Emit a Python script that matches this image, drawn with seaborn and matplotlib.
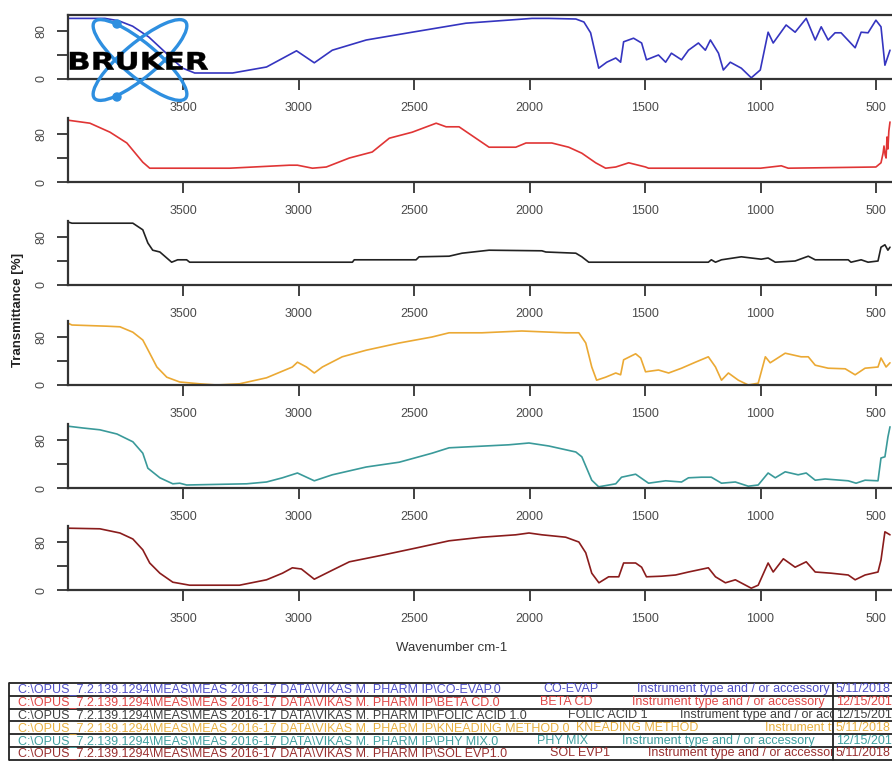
import matplotlib
matplotlib.use("Agg")
import matplotlib.pyplot as plt
import seaborn as sns
import pandas as pd
from matplotlib.patches import Ellipse, Circle, PathPatch, Rectangle
from matplotlib.textpath import TextPath
from matplotlib.font_manager import FontProperties
from matplotlib.transforms import Affine2D

# ---- IR spectra: wavenumber (cm-1) and transmittance (%) per sample ----
wn_coevap = [4000, 3840, 3780, 3720, 3650, 3580, 3530, 3503, 3451, 3287, 3140, 3010,
             2933, 2855, 2708, 2509, 2276, 2133, 1990, 1917, 1800, 1765, 1736, 1701,
             1666, 1627, 1606, 1593, 1550, 1515, 1494, 1442, 1411, 1386, 1342, 1312,
             1269, 1239, 1217, 1182, 1161, 1131, 1083, 1040, 1001, 967, 945, 889,
             850, 802, 763, 737, 707, 677, 651, 590, 564, 534, 500, 478, 461, 439]
t_coevap = [101, 101, 97, 88, 70, 45, 27, 18, 10, 10, 20, 47,
            27, 48, 65, 78, 93, 97, 101, 101, 100, 95, 77, 18,
            28, 35, 28, 62, 68, 60, 32, 40, 28, 43, 32, 48,
            60, 48, 65, 43, 15, 28, 18, 2, 15, 78, 60, 90,
            78, 101, 65, 87, 65, 77, 77, 52, 78, 77, 98, 87, 23, 48]

wn_betacd = [4000, 3905, 3818, 3745, 3676, 3646, 3300, 3041, 3006, 2941, 2881, 2781,
             2682, 2608, 2509, 2405, 2362, 2306, 2176, 2060, 2016, 1904, 1831, 1774,
             1714, 1671, 1627, 1571, 1498, 1485, 1000, 910, 880, 500, 478, 469,
             465, 460, 456, 452, 448, 444, 439]
t_betacd = [103, 98, 83, 65, 33, 23, 23, 28, 28, 23, 25, 40,
            50, 73, 83, 98, 92, 92, 58, 58, 65, 65, 58, 48,
            32, 23, 25, 32, 25, 23, 23, 27, 23, 25, 32, 48,
            60, 45, 40, 75, 55, 85, 100]

wn_folic = [4000, 3983, 3719, 3676, 3654, 3633, 3602, 3572, 3551, 3525, 3486, 3473,
            2768, 2760, 2492, 2479, 2349, 2293, 2176, 1947, 1930, 1800, 1774, 1744,
            1226, 1213, 1195, 1169, 1083, 997, 967, 936, 850, 793, 763, 620,
            608, 564, 534, 491, 478, 461, 448, 439]
t_folic = [105, 103, 103, 92, 70, 58, 55, 45, 38, 42, 42, 38,
           38, 42, 42, 47, 48, 53, 58, 57, 55, 53, 47, 38,
           38, 42, 38, 42, 47, 43, 45, 38, 40, 48, 42, 42,
           38, 42, 38, 40, 63, 67, 58, 63]

wn_knead = [4000, 3983, 3831, 3775, 3719, 3676, 3646, 3615, 3572, 3516, 3430, 3356,
            3257, 3140, 3028, 3006, 2967, 2933, 2898, 2812, 2708, 2565, 2423, 2349,
            2207, 2034, 1844, 1787, 1757, 1731, 1710, 1671, 1627, 1606, 1593, 1541,
            1519, 1498, 1442, 1398, 1342, 1282, 1226, 1195, 1169, 1139, 1096, 1053,
            1010, 979, 958, 893, 824, 793, 763, 707, 633, 590, 547, 491, 478, 456, 439]
t_knead = [103, 100, 98, 97, 88, 75, 53, 30, 13, 5, 2, 0,
           2, 12, 30, 38, 30, 20, 30, 47, 58, 70, 80, 87,
           87, 90, 87, 87, 70, 30, 8, 13, 20, 17, 42, 52,
           45, 22, 25, 20, 28, 38, 47, 30, 8, 20, 8, 0,
           3, 47, 37, 53, 47, 47, 33, 28, 27, 17, 28, 30, 45, 30, 37]

wn_phymix = [4000, 3935, 3862, 3788, 3719, 3676, 3654, 3602, 3546, 3516, 3486, 3226,
             3140, 3071, 3006, 2933, 2855, 2708, 2565, 2423, 2349, 2090, 2003, 1917,
             1800, 1774, 1731, 1701, 1627, 1602, 1541, 1485, 1411, 1342, 1312, 1256,
             1213, 1169, 1109, 1053, 1010, 967, 936, 893, 837, 802, 763, 720,
             620, 586, 547, 491, 478, 461, 448, 439]
t_phymix = [103, 100, 97, 90, 77, 58, 33, 17, 7, 8, 5, 7,
            10, 17, 25, 12, 22, 35, 43, 58, 67, 72, 75, 70,
            60, 52, 13, 2, 7, 18, 23, 8, 12, 10, 17, 18,
            18, 8, 10, 3, 5, 25, 17, 27, 22, 25, 13, 15,
            12, 8, 13, 12, 50, 52, 85, 102]

wn_solevp = [4000, 3862, 3775, 3719, 3676, 3646, 3602, 3546, 3473, 3257, 3140, 3071,
             3028, 2989, 2933, 2855, 2781, 2639, 2492, 2349, 2207, 2060, 2003, 1947,
             1844, 1787, 1757, 1731, 1700, 1658, 1614, 1593, 1541, 1515, 1494, 1429,
             1368, 1312, 1226, 1195, 1152, 1109, 1040, 1010, 967, 945, 901, 850,
             802, 763, 694, 620, 590, 547, 491, 478, 461, 439]
t_solevp = [103, 102, 95, 85, 67, 45, 28, 13, 8, 8, 17, 28,
            37, 35, 18, 33, 47, 58, 70, 82, 88, 92, 95, 92,
            88, 80, 62, 28, 12, 22, 22, 45, 45, 38, 22, 23,
            25, 30, 37, 22, 12, 17, 3, 8, 45, 30, 52, 38,
            47, 30, 28, 25, 17, 25, 30, 50, 97, 92]

samples = ["CO-EVAP", "BETA CD", "FOLIC ACID 1", "KNEADING METHOD", "PHY MIX", "SOL EVP1"]
file_names = ["CO-EVAP.0", "BETA CD.0", "FOLIC ACID 1.0", "KNEADING METHOD.0",
              "PHY MIX.0", "SOL EVP1.0"]
dates = ["5/11/2018", "12/15/2017", "12/15/2017", "5/11/2018", "12/15/2017", "5/11/2018"]
line_colors = ["#3535c0", "#e03535", "#222222", "#eba934", "#3a9a9a", "#8a1c1c"]
text_colors = ["#5050c8", "#e04848", "#404040", "#e8b040", "#40a0a0", "#9a3030"]

x_ticks = [3500, 3000, 2500, 2000, 1500, 1000, 500]
y_ticks = [0, 40, 80]
y_tick_labels = ["0", "", "80"]

spectra = [(wn_coevap, t_coevap), (wn_betacd, t_betacd), (wn_folic, t_folic),
           (wn_knead, t_knead), (wn_phymix, t_phymix), (wn_solevp, t_solevp)]

# ---- figure ----
sns.set_style("ticks")
plt.rcParams["font.family"] = ["Liberation Sans", "DejaVu Sans"]

W, H = 892, 762
fig = plt.figure(figsize=(W / 100, H / 100), dpi=100)

panel_bottoms = [79, 182, 285, 385, 488, 590]   # px from top
panel_h = 64.2
left_px, right_px = 68, 899

for i, ((wn, tr), col) in enumerate(zip(spectra, line_colors)):
    b = panel_bottoms[i]
    ax = fig.add_axes([left_px / W, 1 - b / H, (right_px - left_px) / W, panel_h / H])
    df = pd.DataFrame({"wavenumber": wn, "transmittance": tr})
    sns.lineplot(data=df, x="wavenumber", y="transmittance", ax=ax, color=col,
                 lw=1.2, sort=False, estimator=None)
    ax.set_xlim(4000, 400)
    ax.set_ylim(0, 107)
    ax.set_xticks(x_ticks)
    ax.set_xticklabels([str(v) for v in x_ticks])
    ax.set_yticks(y_ticks)
    ax.set_yticklabels(y_tick_labels, rotation=90, va="center")
    ax.set_xlabel("")
    ax.set_ylabel("")
    ax.tick_params(axis="x", direction="out", length=8, width=1.3, color="#333333",
                   labelcolor="#4a4a4a", labelsize=9, pad=8.5)
    ax.tick_params(axis="y", direction="out", length=8, width=1.3, color="#333333",
                   labelcolor="#4a4a4a", labelsize=9, pad=7)
    for side in ("left", "bottom"):
        ax.spines[side].set_linewidth(1.6)
        ax.spines[side].set_color("#333333")
    ax.spines["right"].set_visible(False)
    if i == 0:
        ax.spines["top"].set_visible(True)
        ax.spines["top"].set_linewidth(1.6)
        ax.spines["top"].set_color("#333333")
    else:
        ax.spines["top"].set_visible(False)
    ax.patch.set_alpha(0)

fig.text(18 / W, 1 - 310 / H, "Transmittance [%]", rotation=90, ha="center", va="center",
         fontsize=9.5, color="#222222", fontweight="bold")
fig.text(452 / W, 1 - 648 / H, "Wavenumber cm-1", ha="center", va="center",
         fontsize=9.5, color="#333333")

# ---- overlay in pixel units: logo and file table ----
ov = fig.add_axes([0, 0, 1, 1], zorder=10)
ov.set_xlim(0, W)
ov.set_ylim(H, 0)
ov.axis("off")
ov.patch.set_alpha(0)

logo_blue = "#2e8fe0"
for ang in (40, -40):
    ov.add_patch(Ellipse((140, 60), 119, 34, angle=ang, fill=False, ec=logo_blue, lw=2.4))
ov.add_patch(Circle((117, 24), 4, color=logo_blue))
ov.add_patch(Circle((117, 97), 4, color=logo_blue))
tp = TextPath((0, 0), "BRUKER", size=20, prop=FontProperties(family="DejaVu Sans", weight="bold"))
bb = tp.get_extents()
tr_logo = (Affine2D().translate(-bb.x0, -bb.y0)
           .scale(138 / bb.width, -18 / bb.height).translate(70, 70)) + ov.transData
ov.add_patch(PathPatch(tp, transform=tr_logo, color="black", lw=0.3))

# file table
tbl_top, row_h = 683, 12.8
tbl_left, tbl_div = 9, 833
n_rows = len(samples)
for k in range(n_rows + 1):
    y = tbl_top + k * row_h
    ov.plot([tbl_left, W], [y, y], color="#222222", lw=1.3, solid_capstyle="butt")
tbl_bottom = tbl_top + n_rows * row_h
ov.plot([tbl_left, tbl_left], [tbl_top, tbl_bottom], color="#222222", lw=1.3)
ov.plot([tbl_div, tbl_div], [tbl_top, tbl_bottom], color="#222222", lw=1.3)

sample_x = [543, 540, 568, 576, 537, 550]
instr_x = [637, 632, 680, 765, 622, 648]
clip_rect = Rectangle((tbl_left, tbl_top), tbl_div - tbl_left - 1, tbl_bottom - tbl_top,
                      transform=ov.transData)
prefix = "C:\\OPUS_7.2.139.1294\\MEAS\\MEAS 2016-17 DATA\\VIKAS M. PHARM IP\\"
fs = 9.0
for k in range(n_rows):
    yc = tbl_top + (k + 0.5) * row_h
    c = text_colors[k]
    ov.text(18, yc, prefix + file_names[k], color=c, fontsize=fs, va="center", ha="left")
    ov.text(sample_x[k], yc, samples[k], color=c, fontsize=fs, va="center", ha="left")
    t = ov.text(instr_x[k], yc, "Instrument type and / or accessory", color=c,
                fontsize=fs, va="center", ha="left", clip_on=True)
    t.set_clip_path(clip_rect)
    ov.text(tbl_div + 3, yc, dates[k], color=c, fontsize=fs, va="center", ha="left")

fig.savefig("out.png", dpi=100, facecolor="white")
